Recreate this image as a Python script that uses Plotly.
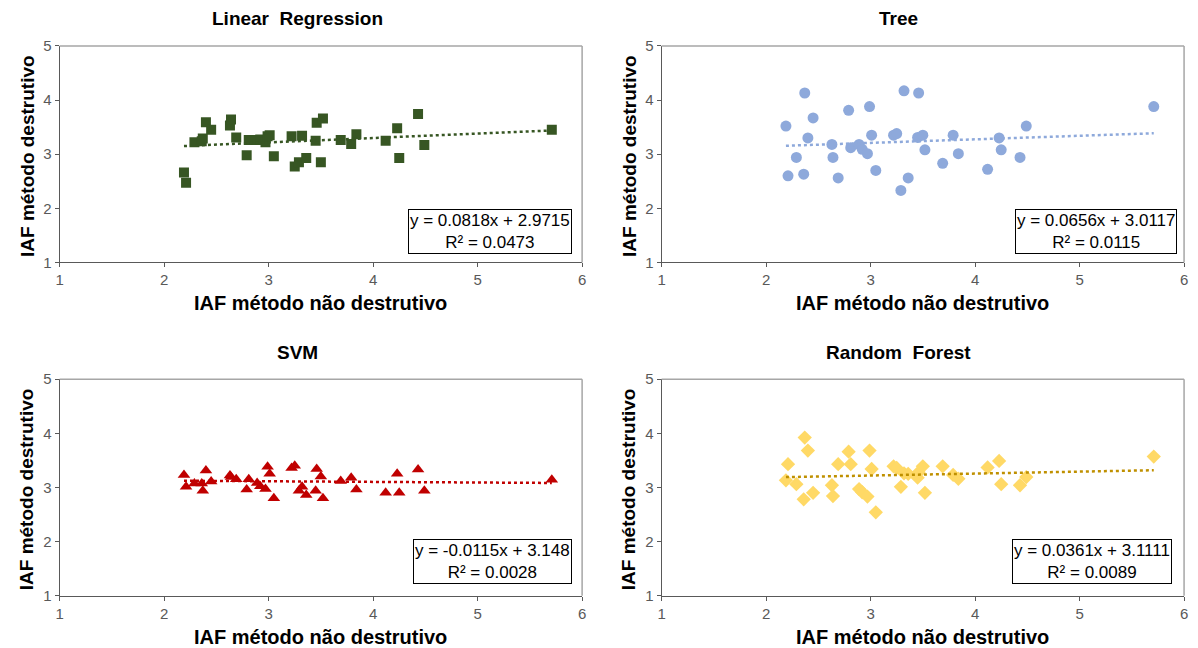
import plotly.graph_objects as go

W, H = 1198, 648

# ---- data ----
x_nd = [2.19, 2.21, 2.29, 2.36, 2.37, 2.40, 2.45, 2.63, 2.64, 2.69, 2.79, 2.81,
        2.89, 2.92, 2.97, 2.99, 3.01, 3.05, 3.22, 3.25, 3.29, 3.32, 3.36, 3.45,
        3.46, 3.50, 3.52, 3.69, 3.79, 3.84, 4.12, 4.23, 4.25, 4.43, 4.49, 5.71]

y_lr = [2.66, 2.47, 3.22, 3.24, 3.29, 3.59, 3.45, 3.53, 3.64, 3.31, 2.98, 3.26,
        3.26, 3.27, 3.22, 3.33, 3.35, 2.96, 3.33, 2.77, 2.85, 3.34, 2.93, 3.25,
        3.58, 2.85, 3.66, 3.26, 3.19, 3.37, 3.25, 3.48, 2.93, 3.74, 3.17, 3.45]

y_tree = [3.52, 2.60, 2.94, 2.63, 4.13, 3.30, 3.67, 3.18, 2.94, 2.56, 3.81, 3.12,
          3.18, 3.09, 3.01, 3.88, 3.35, 2.70, 3.35, 3.38, 2.33, 4.17, 2.56, 3.31,
          4.13, 3.35, 3.08, 2.83, 3.35, 3.01, 2.72, 3.30, 3.08, 2.94, 3.52, 3.88]

y_svm = [3.23, 3.01, 3.07, 3.07, 2.94, 3.31, 3.11, 3.22, 3.19, 3.15, 2.96, 3.15,
         3.08, 3.02, 2.97, 3.38, 3.25, 2.80, 3.36, 3.40, 2.94, 3.01, 2.86, 2.94,
         3.34, 3.20, 2.80, 3.12, 3.18, 2.96, 2.90, 3.25, 2.90, 3.33, 2.94, 3.14]

y_rf = [3.13, 3.43, 3.06, 2.78, 3.92, 3.68, 2.90, 3.04, 2.84, 3.43, 3.66, 3.43,
        2.97, 2.91, 2.83, 3.68, 3.34, 2.54, 3.39, 3.36, 3.01, 3.26, 3.25, 3.18,
        3.28, 3.39, 2.90, 3.39, 3.23, 3.16, 3.37, 3.49, 3.06, 3.04, 3.19, 3.57]

titles = ["Linear  Regression", "Tree", "SVM", "Random  Forest"]
slopes = [0.0818, 0.0656, -0.0115, 0.0361]
intercepts = [2.9715, 3.0117, 3.148, 3.1111]
r2 = [0.0473, 0.0115, 0.0028, 0.0089]
eq_text = ["y = 0.0818x + 2.9715", "y = 0.0656x + 3.0117",
           "y = -0.0115x + 3.148", "y = 0.0361x + 3.1111"]
r2_text = ["R² = 0.0473", "R² = 0.0115", "R² = 0.0028", "R² = 0.0089"]
x_ticks = [1, 2, 3, 4, 5, 6]
y_ticks = [1, 2, 3, 4, 5]
x_title = "IAF método não destrutivo"
y_title = "IAF método destrutivo"

# ---- styles ----
ys = [y_lr, y_tree, y_svm, y_rf]
marker_colors = ["#375623", "#8EA9DB", "#C00000", "#FFD966"]
line_colors = ["#375623", "#8EA9DB", "#C00000", "#BF9000"]
symbols = ["square", "circle", "triangle-up", "diamond"]
msizes = [10, 11, 11, 11]

# target pixel boxes of plot areas: (left, right, top, bottom)
boxes = [(56, 582, 45, 262), (662, 1188, 45, 262),
         (56, 582, 379, 596), (662, 1188, 379, 596)]
# annotation box right/bottom target pixel positions
ann_pos = [(572, 254), (1181, 254), (572, 584), (1176, 584)]

def px(x):
    return x / W

def py(y):
    p = (y - 8.0) / 0.976
    return 1 - p / H

font_fam = "Liberation Sans, Arial, sans-serif"
fig = go.Figure()
layout = dict(width=W, height=H, margin=dict(l=0, r=0, t=0, b=0),
              paper_bgcolor="white", plot_bgcolor="white", showlegend=False,
              font=dict(family=font_fam))
annotations = []
shapes = []

for i in range(4):
    k = "" if i == 0 else str(i + 1)
    l, r, t, b = boxes[i]
    xa = "x" + k
    ya = "y" + k
    fig.add_trace(go.Scatter(
        x=x_nd, y=ys[i], mode="markers", xaxis=xa, yaxis=ya,
        marker=dict(symbol=symbols[i], size=msizes[i], color=marker_colors[i],
                    line=dict(width=0))))
    xmin, xmax = min(x_nd), max(x_nd)
    fig.add_trace(go.Scatter(
        x=[xmin, xmax],
        y=[slopes[i] * xmin + intercepts[i], slopes[i] * xmax + intercepts[i]],
        mode="lines", xaxis=xa, yaxis=ya,
        line=dict(color=line_colors[i], width=2.5, dash="dot")))
    common = dict(showgrid=False, zeroline=False, ticks="outside", ticklen=4,
                  tickcolor="#595959", showline=True, linecolor="#595959",
                  linewidth=1, tickfont=dict(size=15, color="#595959",
                                             family=font_fam))
    layout["xaxis" + k] = dict(common, domain=[px(l), px(r)], range=[1, 6],
                               tickvals=x_ticks, anchor=ya)
    layout["yaxis" + k] = dict(common, domain=[py(b), py(t)], range=[1, 5],
                               tickvals=y_ticks, anchor=xa)
    # border (top/right) light gray
    shapes.append(dict(type="line", xref="paper", yref="paper",
                       x0=px(l), x1=px(r), y0=py(t), y1=py(t),
                       line=dict(color="#A6A6A6", width=1.5)))
    shapes.append(dict(type="line", xref="paper", yref="paper",
                       x0=px(r), x1=px(r), y0=py(t), y1=py(b),
                       line=dict(color="#A6A6A6", width=1.5)))
    cx = (l + r) / 2
    # subplot title
    annotations.append(dict(text="<b>" + titles[i] + "</b>", xref="paper",
                            yref="paper", x=px(cx - 24), y=py(t - 27),
                            xanchor="center", yanchor="middle", showarrow=False,
                            font=dict(size=19, color="#000000", family=font_fam)))
    # x title
    annotations.append(dict(text="<b>" + x_title + "</b>", xref="paper",
                            yref="paper", x=px(cx), y=py(b + 41),
                            xanchor="center", yanchor="middle", showarrow=False,
                            font=dict(size=20, color="#000000", family=font_fam)))
    # y title
    annotations.append(dict(text="<b>" + y_title + "</b>", xref="paper",
                            yref="paper", x=px(l - 33), y=py((t + b) / 2 + 2),
                            xanchor="center", yanchor="middle", showarrow=False,
                            textangle=-90,
                            font=dict(size=19, color="#000000", family=font_fam)))
    # equation box
    ax, ay = ann_pos[i]
    annotations.append(dict(text=eq_text[i] + "<br>" + r2_text[i], xref="paper",
                            yref="paper", x=px(ax), y=py(ay),
                            xanchor="right", yanchor="bottom", showarrow=False,
                            align="center", bordercolor="#000000", borderwidth=1,
                            borderpad=1, bgcolor="white",
                            font=dict(size=17, color="#000000", family=font_fam)))

layout["annotations"] = annotations
layout["shapes"] = shapes
fig.update_layout(**layout)
fig.write_html("out.html", config={"displayModeBar": False},
               post_script="document.body.style.margin='0';"
                           "document.body.style.overflow='hidden';")
